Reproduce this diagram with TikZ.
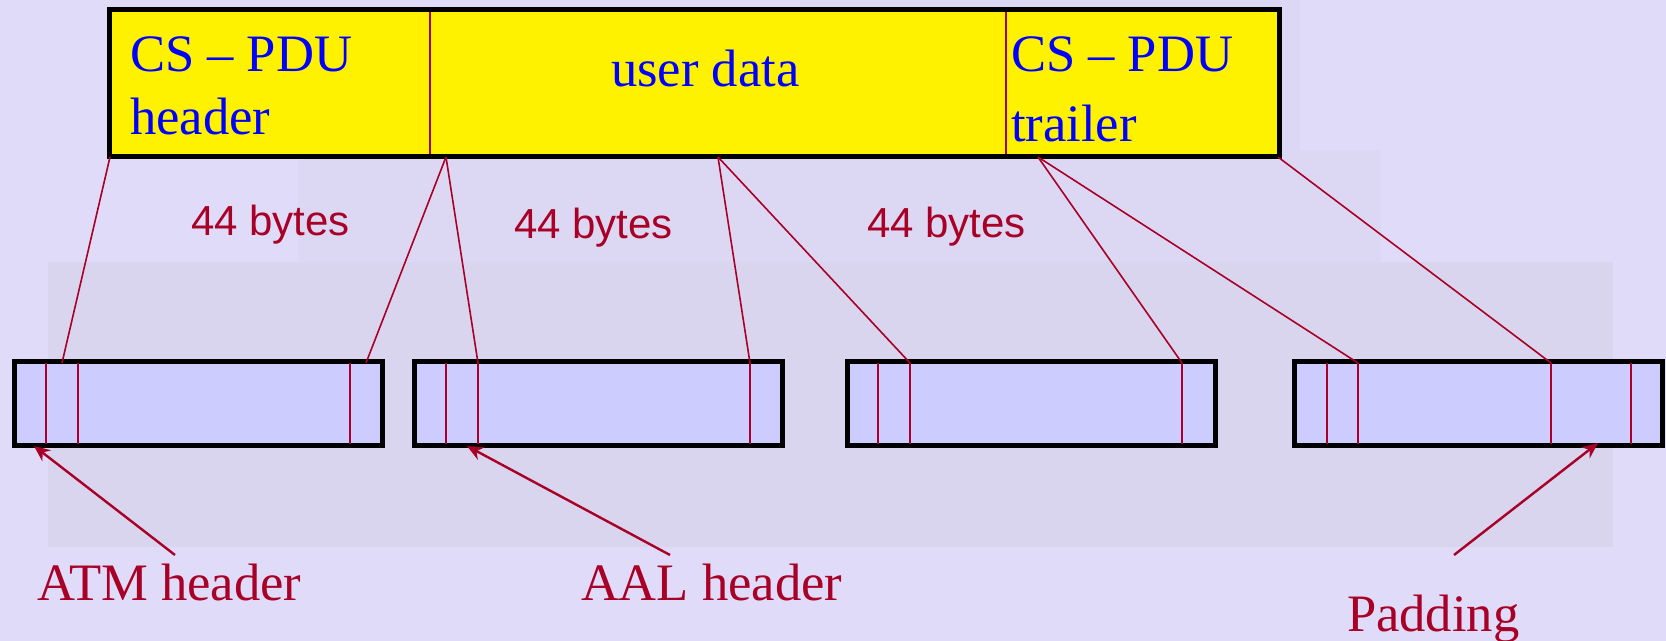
\documentclass[tikz,border=0pt]{standalone}
\usepackage{fontspec}
\setmainfont{Liberation Serif}
\newfontfamily\arialf{Liberation Sans}
\usetikzlibrary{arrows.meta}
\definecolor{bg}{RGB}{223,219,248}
\definecolor{photo}{RGB}{217,213,239}
\definecolor{dred}{RGB}{168,0,38}
\definecolor{cellfill}{RGB}{204,204,255}
\begin{document}
\begin{tikzpicture}[x=0.5pt,y=-0.5pt,
  bigtext/.style={font=\fontsize{26.3}{30}\selectfont, text=blue, inner sep=0pt, outer sep=0pt, anchor=base west},
  lbl/.style={font=\fontsize{26.3}{30}\selectfont, text=dred, inner sep=0pt, outer sep=0pt, anchor=base west},
  bytes/.style={font=\arialf\fontsize{21}{24}\selectfont, text=dred, inner sep=0pt, outer sep=0pt, anchor=base west},
  pdubox/.style={draw=black, line width=2.5pt, fill=yellow, minimum width=585pt, minimum height=73.5pt, inner sep=0pt},
  cellbox/.style={draw=black, line width=2.5pt, fill=cellfill, minimum width=184pt, minimum height=42pt, inner sep=0pt},
  divider/.style={draw=dred, line width=0.8pt},
  link/.style={draw=dred, line width=0.8pt},
  pointer/.style={draw=dred, line width=1.2pt, -{Stealth[length=8pt,width=7pt]}}
]
\useasboundingbox (0,0) rectangle (1666,641);
% background
\fill[bg] (0,0) rectangle (1666,641);
\fill[photo!45!bg] (298,150) rectangle (1381,262);
\fill[photo!45!bg] (800,0) rectangle (1300,150);
\fill[photo] (48,262) rectangle (1613,547);

% top CS-PDU box
\node[pdubox] (pdu) at (694.5,83) {};
\draw[divider] (430,12) -- (430,154);
\draw[divider] (1006,12) -- (1006,154);
\node[bigtext] (h1) at (130,72) {CS – PDU};
\node[bigtext] (h2) at (130,135) {header};
\node[bigtext] (ud) at (611,87) {user data};
\node[bigtext] (t1) at (1011,72) {CS – PDU};
\node[bigtext] (t2) at (1011,142) {trailer};

% cells
\node[cellbox] (c1) at (198.4,403.5) {};
\node[cellbox] (c2) at (598.5,403.5) {};
\node[cellbox] (c3) at (1031,403.5) {};
\node[cellbox] (c4) at (1478.5,403.5) {};
\foreach \x in {46,78,350, 446,478,750, 878,910,1182, 1327,1358,1551,1631}
  \draw[divider] (\x,363) -- (\x,444);

% connector ends
\coordinate (hL) at (110,157);
\coordinate (hR) at (446,157);
\coordinate (uM) at (718,157);
\coordinate (tL) at (1038,157);
\coordinate (tR) at (1278,157);
\coordinate (e11) at (62,363);
\coordinate (e12) at (366,363);
\coordinate (e22) at (478,363);
\coordinate (e23) at (750,363);
\coordinate (e32) at (910,363);
\coordinate (e33) at (1182,363);
\coordinate (e42) at (1358,363);
\coordinate (e43) at (1551,363);
\draw[link] (hL) -- (e11);
\draw[link] (hR) -- (e12);
\draw[link] (hR) -- (e22);
\draw[link] (uM) -- (e23);
\draw[link] (uM) -- (e32);
\draw[link] (tL) -- (e33);
\draw[link] (tL) -- (e42);
\draw[link] (tR) -- (e43);

% byte labels
\node[bytes] (b1) at (191,236) {44 bytes};
\node[bytes] (b2) at (514,239) {44 bytes};
\node[bytes] (b3) at (867,238) {44 bytes};

% bottom labels and pointers
\node[lbl] (atm) at (37,600) {ATM header};
\node[lbl] (aal) at (581,600) {AAL header};
\node[lbl] (pad) at (1347,632) {Padding};
\coordinate (atmT) at (175,555);
\coordinate (aalT) at (670,555);
\coordinate (padT) at (1454,555);
\coordinate (atmH) at (34,446);
\coordinate (aalH) at (467,446);
\coordinate (padH) at (1598,443);
\draw[pointer] (atmT) -- (atmH);
\draw[pointer] (aalT) -- (aalH);
\draw[pointer] (padT) -- (padH);
\end{tikzpicture}
\end{document}
